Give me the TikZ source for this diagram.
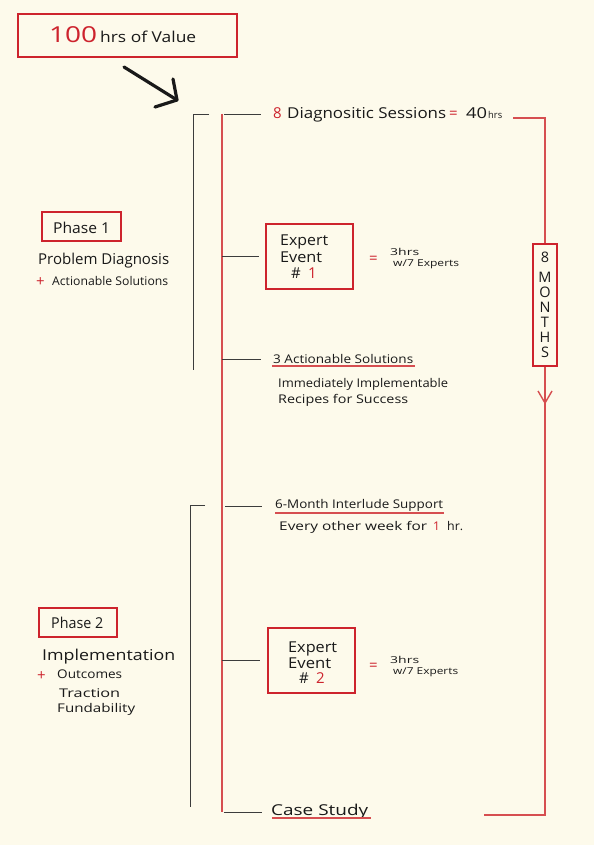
\documentclass[tikz,border=0pt]{standalone}
\usepackage{fontspec}
\usepackage{graphicx}
\newfontfamily\hand{Open Sans}
\usetikzlibrary{arrows.meta}

\definecolor{paper}{RGB}{253,250,235}
\definecolor{accent}{RGB}{205,35,45}
\definecolor{rule}{RGB}{214,78,80}
\definecolor{ink}{RGB}{25,25,25}
\definecolor{wire}{RGB}{60,60,60}

% stretch a piece of text horizontally to a given width, keeping its height
\newcommand{\fitw}[2]{\resizebox{#1}{\height}{#2}}

\tikzset{
  txt/.style={font=\hand\fontsize{15}{18}\selectfont, text=ink, inner sep=0pt, anchor=base west},
  sm/.style={txt, font=\hand\fontsize{12}{14}\selectfont},
  tiny/.style={txt, font=\hand\fontsize{9.5}{11}\selectfont},
  plus/.style={txt, text=accent, font=\hand\fontsize{15}{18}\selectfont},
  box/.style={draw=accent, line width=1.2pt, fill=paper, inner sep=0pt},
  conn/.style={draw=wire, line width=0.9pt},
  railr/.style={draw=rule, line width=1.4pt},
  brk/.style={draw=wire, line width=1pt},
  uline/.style={draw=rule, line width=1.2pt},
}

\begin{document}
\begin{tikzpicture}[x=1pt,y=-1pt]
\useasboundingbox (0,0) rectangle (594,845);
\fill[paper] (0,0) rectangle (594,845);

% ---- headline -------------------------------------------------------
\node[box, minimum width=219, minimum height=43] (titlebox) at (127.5,35.5) {};
\node[txt] (hundred) at (49,43) {\fitw{48pt}{\color{accent}\fontsize{22}{22}\selectfont 100}};
\node[txt] (titletext) at (100,43) {\fitw{96pt}{hrs of Value}};

\coordinate (arrA) at (124,67);
\coordinate (arrB) at (177,100);
\coordinate (arrL) at (155,107);
\coordinate (arrR) at (173,79);
\draw[ink, line width=3.2pt, line cap=round] (arrA) -- (arrB);
\draw[ink, line width=3.2pt, line cap=round, line join=round] (arrL) -- (arrB) -- (arrR);

% ---- main timeline ----------------------------------------------------
\coordinate (railTop) at (222,114);
\coordinate (railBot) at (222,812);
\draw[railr] (railTop) -- (railBot);

% duration rail on the right
\coordinate (durA) at (513,118);
\coordinate (durB) at (545,118);
\coordinate (durC) at (545,815);
\coordinate (durD) at (484,815);
\draw[railr] (durA) -- (durB) -- (durC) -- (durD);
\node[box, minimum width=24, minimum height=122, align=center,
      font=\hand\fontsize{14.5}{15}\selectfont, text=ink] (months) at (545,305)
      {8\\[5pt]M\\O\\N\\T\\H\\S};
\coordinate (vL) at (538,391);
\coordinate (vTip) at (545,403);
\coordinate (vR) at (552,391);
\draw[railr, line join=round] (vL) -- (vTip) -- (vR);

% ---- phase brackets ---------------------------------------------------
\coordinate (b1a) at (209,115);
\coordinate (b1b) at (193,115);
\coordinate (b1c) at (193,370);
\draw[brk] (b1a) -- (b1b) -- (b1c);
\coordinate (b2a) at (205,505);
\coordinate (b2b) at (190,505);
\coordinate (b2c) at (190,807);
\draw[brk] (b2a) -- (b2b) -- (b2c);

% ---- phase 1 labels ---------------------------------------------------
\node[box, minimum width=79, minimum height=29] (ph1box) at (81.5,226.5) {};
\node[txt] (ph1) at (53,233) {\fitw{57pt}{Phase 1}};
\node[txt] (ph1a) at (38,264) {\fitw{131pt}{Problem Diagnosis}};
\node[plus] (ph1plus) at (36,286) {+};
\node[sm] (ph1b) at (52,285) {\fitw{116pt}{Actionable Solutions}};

% ---- diagnostic sessions ----------------------------------------------
\coordinate (c0a) at (224,114);
\coordinate (c0b) at (261,114);
\draw[conn] (c0a) -- (c0b);
\node[txt, text=accent] (s8) at (273,119) {8};
\node[txt] (sessions) at (287,119) {\fitw{159pt}{Diagnositic Sessions}};
\node[txt, text=accent] (seq) at (449,119) {=};
\node[txt] (s40) at (466,119) {\fitw{21pt}{40}};
\node[tiny] (shrs) at (488,119) {\fitw{14pt}{hrs}};

% ---- expert event 1 ---------------------------------------------------
\node[box, minimum width=87, minimum height=65] (ee1) at (309.5,256.5) {};
\coordinate (c1) at (222,256.5);
\draw[conn, shorten >=6pt] (c1) -- (ee1.west);
\node[txt] (ee1a) at (280,245) {\fitw{48pt}{Expert}};
\node[txt] (ee1b) at (280,262) {\fitw{42pt}{Event}};
\node[txt] (ee1c) at (291,278) {\#};
\node[txt, text=accent] (ee1d) at (308,278) {1};
\node[txt, text=accent] (ee1eq) at (369,263) {=};
\node[tiny] (ee1h) at (390,255) {\fitw{29pt}{3hrs}};
\node[tiny] (ee1x) at (393,266) {\fitw{66pt}{w/7 Experts}};

% ---- actionable solutions ---------------------------------------------
\coordinate (c2a) at (222,359);
\coordinate (c2b) at (261,359);
\draw[conn] (c2a) -- (c2b);
\node[sm] (sol) at (273,363) {\fitw{140pt}{3 Actionable Solutions}};
\draw[uline] (272,366) -- (415,366);
\node[sm] (sol1) at (278,387) {\fitw{170pt}{Immediately Implementable}};
\node[sm] (sol2) at (278,403) {\fitw{130pt}{Recipes for Success}};

% ---- interlude support ------------------------------------------------
\coordinate (c3a) at (225,506);
\coordinate (c3b) at (262,506);
\draw[conn] (c3a) -- (c3b);
\node[sm] (sup) at (275,508) {\fitw{168pt}{6-Month Interlude Support}};
\draw[uline] (275,513) -- (444,513);
\node[sm] (sup1) at (279,530) {\fitw{148pt}{Every other week for}};
\node[sm, text=accent] (sup2) at (433,530) {1};
\node[sm] (sup3) at (447,530) {\fitw{16pt}{hr.}};

% ---- phase 2 labels ---------------------------------------------------
\node[box, minimum width=78, minimum height=29] (ph2box) at (78,622.5) {};
\node[txt] (ph2) at (51,628) {\fitw{52pt}{Phase 2}};
\node[txt] (ph2a) at (42,660) {\fitw{133pt}{Implementation}};
\node[plus] (ph2plus) at (37,680) {+};
\node[sm] (ph2b) at (57,678) {\fitw{65pt}{Outcomes}};
\node[sm] (ph2c) at (59,697) {\fitw{61pt}{Traction}};
\node[sm] (ph2d) at (57,712) {\fitw{78pt}{Fundability}};

% ---- expert event 2 ---------------------------------------------------
\node[box, minimum width=87, minimum height=65] (ee2) at (311.5,660.5) {};
\coordinate (c4) at (222,660.5);
\draw[conn, shorten >=7pt] (c4) -- (ee2.west);
\node[txt] (ee2a) at (288,652) {\fitw{49pt}{Expert}};
\node[txt] (ee2b) at (288,668) {\fitw{43pt}{Event}};
\node[txt] (ee2c) at (299,683) {\#};
\node[txt, text=accent] (ee2d) at (316,683) {2};
\node[txt, text=accent] (ee2eq) at (369,670) {=};
\node[tiny] (ee2h) at (390,663) {\fitw{29pt}{3hrs}};
\node[tiny] (ee2x) at (393,674) {\fitw{65pt}{w/7 Experts}};

% ---- case study -------------------------------------------------------
\coordinate (c5a) at (224,812);
\coordinate (c5b) at (262,812);
\draw[conn] (c5a) -- (c5b);
\node[txt] (case) at (271,815) {\fitw{97pt}{Case Study}};
\draw[uline] (272,818) -- (371,818);

\end{tikzpicture}
\end{document}
